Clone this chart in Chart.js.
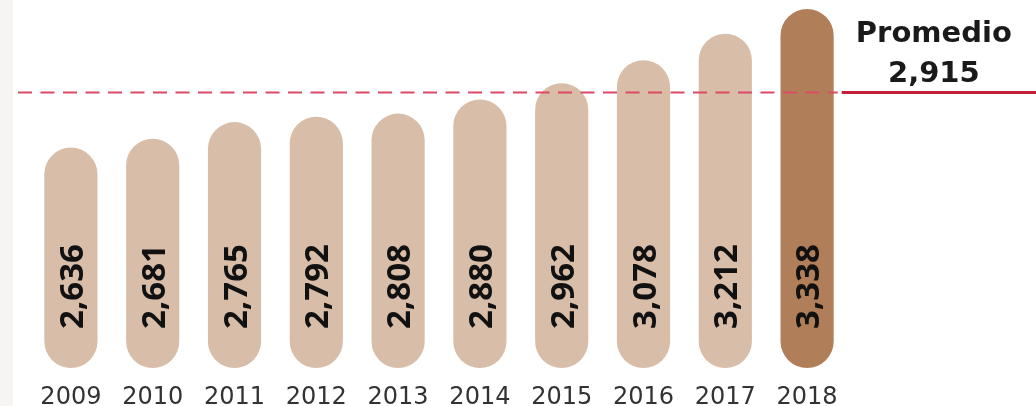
<!DOCTYPE html>
<html>
<head>
<meta charset="utf-8">
<script src="https://cdn.jsdelivr.net/npm/chart.js@4.4.1/dist/chart.umd.min.js"></script>
<style>
  html, body { margin: 0; padding: 0; background: #ffffff; }
  #wrap { width: 1036px; height: 406px; position: relative; }
</style>
</head>
<body>
<div id="wrap"><canvas id="c" width="1036" height="406"></canvas></div>
<script>
const years = ['2009','2010','2011','2012','2013','2014','2015','2016','2017','2018'];
const values = [2636, 2681, 2765, 2792, 2808, 2880, 2962, 3078, 3212, 3338];
const average = 2915;
const avgTitle = 'Promedio';
const avgLabel = '2,915';
const axisMin = 1520;
const axisMax = 3358;

const lightColor = '#d8bda9';
const darkColor = '#b07f59';
const barColors = values.map((v, i) => i === values.length - 1 ? darkColor : lightColor);

const fmt = v => v.toLocaleString('en-US');

const leftStrip = {
  id: 'leftStrip',
  beforeDraw(chart) {
    const ctx = chart.ctx;
    ctx.save();
    ctx.fillStyle = '#f6f5f3';
    ctx.fillRect(0, 0, 13, chart.height);
    ctx.restore();
  }
};

const avgLine = {
  id: 'avgLine',
  afterDatasetsDraw(chart) {
    const ctx = chart.ctx;
    const y = chart.scales.y.getPixelForValue(average);
    const meta = chart.getDatasetMeta(0);
    const last = meta.data[meta.data.length - 1];
    const split = last.x + last.width / 2 + 8;
    ctx.save();
    ctx.strokeStyle = '#dc4a66';
    ctx.lineWidth = 2;
    ctx.setLineDash([14, 8.5]);
    ctx.beginPath();
    ctx.moveTo(chart.chartArea.left - 12, y);
    ctx.lineTo(split - 4, y);
    ctx.stroke();
    ctx.setLineDash([]);
    ctx.strokeStyle = '#c41e3a';
    ctx.lineWidth = 3;
    ctx.beginPath();
    ctx.moveTo(split, y);
    ctx.lineTo(chart.width, y);
    ctx.stroke();
    ctx.fillStyle = '#1a1a1a';
    ctx.font = 'bold 29px "DejaVu Sans"';
    ctx.textAlign = 'center';
    ctx.textBaseline = 'alphabetic';
    const cx = (split + chart.width) / 2 - 5;
    ctx.fillText(avgTitle, cx, y - 50);
    ctx.fillText(avgLabel, cx, y - 10);
    ctx.restore();
  }
};

const valueLabels = {
  id: 'valueLabels',
  afterDatasetsDraw(chart) {
    const ctx = chart.ctx;
    const meta = chart.getDatasetMeta(0);
    ctx.save();
    ctx.fillStyle = '#111111';
    ctx.font = 'bold 33px "Open Sans"';
    ctx.textAlign = 'left';
    ctx.textBaseline = 'alphabetic';
    meta.data.forEach((bar, i) => {
      ctx.save();
      ctx.translate(bar.x, bar.base - 39);
      ctx.rotate(-Math.PI / 2);
      ctx.fillText(fmt(values[i]), 0, 12);
      ctx.restore();
    });
    ctx.restore();
  }
};

new Chart(document.getElementById('c'), {
  type: 'bar',
  data: {
    labels: years,
    datasets: [{
      data: values,
      base: axisMin,
      backgroundColor: barColors,
      borderWidth: 0,
      borderRadius: 27,
      borderSkipped: false,
      categoryPercentage: 1,
      barPercentage: 0.65
    }]
  },
  options: {
    responsive: false,
    animation: false,
    events: [],
    layout: { padding: { left: 30, right: 188, top: 5, bottom: -22 } },
    plugins: {
      legend: { display: false },
      tooltip: { enabled: false },
      title: { display: false }
    },
    scales: {
      x: {
        grid: { display: false, drawTicks: false, tickLength: 0 },
        border: { display: false },
        ticks: {
          color: '#333333',
          padding: 18,
          font: { family: '"DejaVu Sans"', size: 24, lineHeight: 1 },
          maxRotation: 0,
          autoSkip: false
        }
      },
      y: {
        display: false,
        min: axisMin,
        max: axisMax
      }
    }
  },
  plugins: [leftStrip, avgLine, valueLabels]
});
</script>
</body>
</html>
